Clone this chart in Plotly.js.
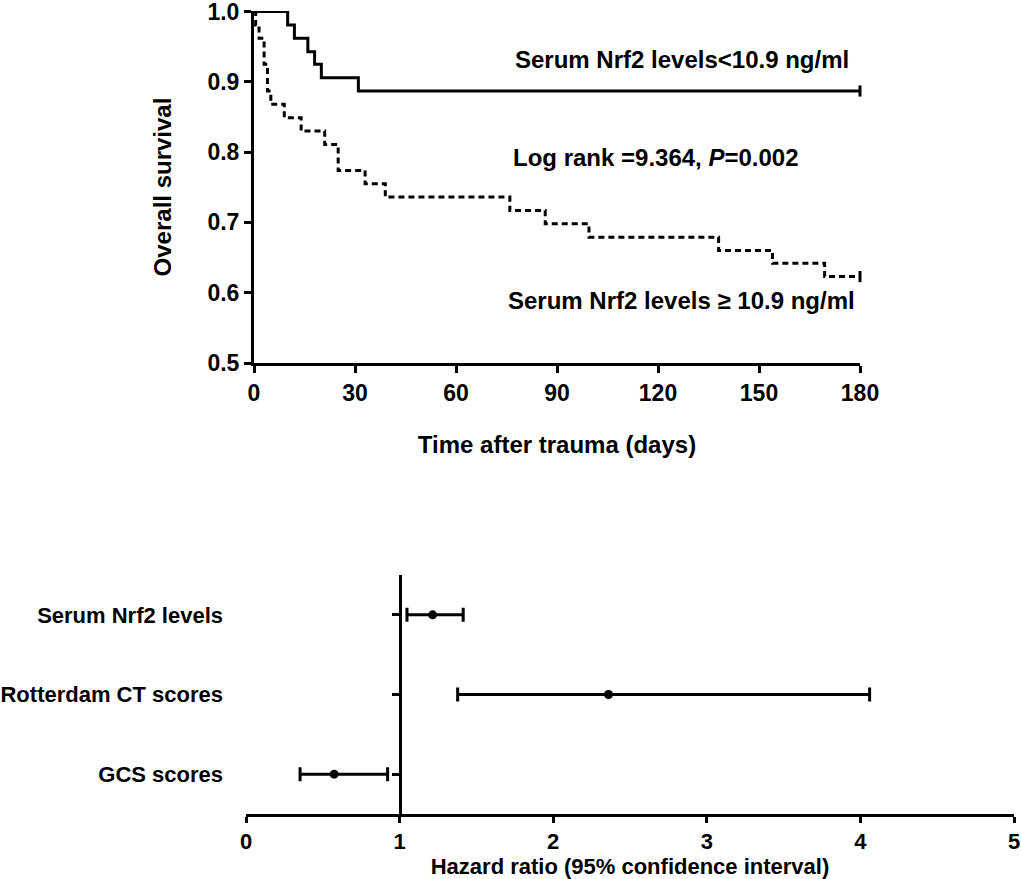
<!DOCTYPE html>
<html>
<head>
<meta charset="utf-8">
<script src="https://cdn.plot.ly/plotly-3.0.1.min.js"></script>
<style>
  body { margin: 0; background: #fff; }
  #chart { width: 1021px; height: 879px; }
</style>
</head>
<body>
<div id="chart"></div>
<script>
// Kaplan-Meier steps (days, survival)
var lowTimes  = [0, 10, 12, 16, 18, 20, 31, 180];
var lowSurv   = [1.0, 0.981, 0.962, 0.943, 0.925, 0.906, 0.887, 0.887];

var highTimes = [0, 0.5, 1.5, 3, 4, 5, 9, 14, 21, 25, 33, 39, 76, 86.5, 99.5, 138, 154, 169.5, 180];
var highSurv  = [1.0, 0.981, 0.962, 0.925, 0.887, 0.868, 0.849, 0.830, 0.811, 0.774, 0.755, 0.736,
                 0.717, 0.698, 0.679, 0.660, 0.642, 0.623, 0.623];

var kmXTicks = [0, 30, 60, 90, 120, 150, 180];
var kmYTicks = [0.5, 0.6, 0.7, 0.8, 0.9, 1.0];

// forest plot (bottom row first)
var factors = ['GCS scores', 'Rotterdam CT scores', 'Serum Nrf2 levels'];
var hr      = [0.574, 2.36, 1.215];
var ciLow   = [0.352, 1.378, 1.048];
var ciHigh  = [0.922, 4.06, 1.414];
var hrTicks = [0, 1, 2, 3, 4, 5];

var FONT = 'Liberation Sans, Arial, Helvetica, sans-serif';
var W = 1021, H = 879;

// pixel boxes of the two panels
var kmX = [254 / W, 860 / W];
var kmY = [1 - 363 / H, 1 - 11 / H];
var fpX = [246 / W, 1014 / W];
var fpY = [1 - 814 / H, 1 - 575 / H];

var traces = [
  {
    x: lowTimes, y: lowSurv, type: 'scatter', mode: 'lines',
    line: {shape: 'hv', color: '#000', width: 3},
    cliponaxis: false, hoverinfo: 'x+y', showlegend: false
  },
  {
    x: highTimes, y: highSurv, type: 'scatter', mode: 'lines',
    line: {shape: 'hv', color: '#000', width: 3, dash: '6px,4px'},
    cliponaxis: false, hoverinfo: 'x+y', showlegend: false
  },
  // censor ticks at end of follow-up
  {
    x: [lowTimes[lowTimes.length - 1], highTimes[highTimes.length - 1]],
    y: [lowSurv[lowSurv.length - 1], highSurv[highSurv.length - 1]],
    type: 'scatter', mode: 'markers',
    marker: {symbol: 'line-ns-open', size: 8, color: '#000', line: {color: '#000', width: 3}},
    cliponaxis: false, hoverinfo: 'skip', showlegend: false
  },
  // labels axis (invisible points)
  {
    x: hr, y: factors, xaxis: 'x2', yaxis: 'y2', type: 'scatter', mode: 'markers',
    marker: {opacity: 0}, hoverinfo: 'skip', showlegend: false
  },
  {
    x: hr, y: factors, xaxis: 'x2', yaxis: 'y3', type: 'scatter', mode: 'markers',
    marker: {color: '#000', size: 9},
    error_x: {
      type: 'data', symmetric: false,
      array: hr.map(function (v, i) { return ciHigh[i] - v; }),
      arrayminus: hr.map(function (v, i) { return v - ciLow[i]; }),
      color: '#000', thickness: 3, width: 7
    },
    cliponaxis: false, showlegend: false
  }
];

var axisCommon = {
  showgrid: false, zeroline: false, showline: true, linecolor: '#000', linewidth: 3,
  ticks: 'outside', ticklen: 7, tickwidth: 3, tickcolor: '#000',
  ticklabeloverflow: 'allow'
};

var layout = {
  width: W, height: H,
  margin: {l: 0, r: 0, t: 0, b: 0},
  paper_bgcolor: '#fff', plot_bgcolor: '#fff',
  font: {family: FONT, color: '#000'},
  showlegend: false,
  xaxis: Object.assign({}, axisCommon, {
    domain: kmX, range: [0, 180], tickvals: kmXTicks, anchor: 'y',
    tickfont: {size: 23, weight: 'bold'},
    title: {text: 'Time after trauma (days)', font: {size: 24, weight: 'bold'}, standoff: 32}
  }),
  yaxis: Object.assign({}, axisCommon, {
    domain: kmY, range: [0.5, 1.0008], tickvals: kmYTicks, tickformat: '.1f', anchor: 'x',
    tickfont: {size: 23, weight: 'bold'},
    title: {text: 'Overall survival', font: {size: 24, weight: 'bold'}, standoff: 30}
  }),
  xaxis2: Object.assign({}, axisCommon, {
    domain: fpX, range: [0, 5], tickvals: hrTicks, anchor: 'y2', ticklen: 6,
    tickfont: {size: 22, weight: 'bold'},
    title: {text: 'Hazard ratio (95% confidence interval)', font: {size: 22, weight: 'bold'}, standoff: 1}
  }),
  yaxis2: {
    domain: fpY, anchor: 'x2', type: 'category',
    categoryorder: 'array', categoryarray: factors, range: [-0.5, 2.5],
    showgrid: false, zeroline: false, showline: false, ticks: '',
    ticklabelstandoff: 22,
    tickfont: {size: 22, weight: 'bold'}
  },
  yaxis3: Object.assign({}, axisCommon, {
    overlaying: 'y2', anchor: 'free', side: 'left',
    position: fpX[0] + (fpX[1] - fpX[0]) / 5,
    type: 'category', categoryorder: 'array', categoryarray: factors, range: [-0.5, 2.5],
    showticklabels: false
  }),
  annotations: [
    {xref: 'x', yref: 'y', x: 127, y: 0.932, text: 'Serum Nrf2 levels<10.9 ng/ml',
     showarrow: false, xanchor: 'center', yanchor: 'middle', font: {size: 24, weight: 'bold'}},
    {xref: 'x', yref: 'y', x: 119.5, y: 0.793, text: 'Log rank =9.364, <i>P</i>=0.002',
     showarrow: false, xanchor: 'center', yanchor: 'middle', font: {size: 24, weight: 'bold'}},
    {xref: 'x', yref: 'y', x: 127, y: 0.589, text: 'Serum Nrf2 levels \u2265 10.9 ng/ml',
     showarrow: false, xanchor: 'center', yanchor: 'middle', font: {size: 24, weight: 'bold'}}
  ]
};

Plotly.newPlot('chart', traces, layout, {displayModeBar: false, responsive: false});
</script>
</body>
</html>
